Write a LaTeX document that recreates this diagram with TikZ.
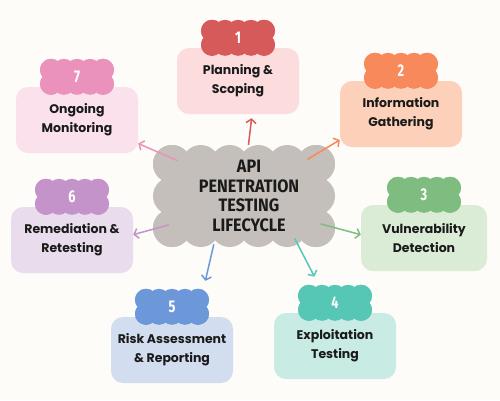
\documentclass[tikz,border=0pt]{standalone}
\usepackage{fontspec}
\setmainfont{Poppins}
\newfontfamily\headfont{Fira Sans}[FakeStretch=0.9]
\newfontfamily\tagfont{Fira Sans}[FakeStretch=0.75]
\usetikzlibrary{positioning,shapes.geometric,calc,arrows.meta}
\definecolor{bgcream}{HTML}{FDFCF8}
\definecolor{hubgrey}{HTML}{C4BFBB}
\definecolor{inkblk}{HTML}{1A1A1A}
\definecolor{rdlt}{HTML}{FCDCDC}
\definecolor{rddk}{HTML}{D75A5A}
\definecolor{orlt}{HTML}{FDD0BA}
\definecolor{ordk}{HTML}{F7895A}
\definecolor{grlt}{HTML}{DAEBD6}
\definecolor{grdk}{HTML}{7EBD7F}
\definecolor{tllt}{HTML}{C8EBE4}
\definecolor{tldk}{HTML}{56C6B5}
\definecolor{bllt}{HTML}{D2DEF0}
\definecolor{bldk}{HTML}{6C98DA}
\definecolor{pplt}{HTML}{E9DCEC}
\definecolor{ppdk}{HTML}{C493CA}
\definecolor{pklt}{HTML}{FBE1EB}
\definecolor{pkdk}{HTML}{EA92BC}
% scalloped patch: centre, half width, half height, puff radius, steps across, steps up, colour
\newcommand\puffy[7]{%
  \begin{scope}[shift={#1}]
    \fill[#7] (-#2,-#3) rectangle (#2,#3);
    \foreach \k in {0,...,#5}
      \fill[#7] ({-#2+2*#2*\k/#5},-#3) circle (#4pt) ({-#2+2*#2*\k/#5},#3) circle (#4pt);
    \foreach \k in {0,...,#6}
      \fill[#7] (-#2,{-#3+2*#3*\k/#6}) circle (#4pt) (#2,{-#3+2*#3*\k/#6}) circle (#4pt);
  \end{scope}}
\tikzset{
  stepbox/.style ={rectangle, rounded corners=12pt, minimum width=122pt,
                   minimum height=66pt, inner sep=2pt, align=center,
                   font=\fontsize{12.5}{19}\selectfont\bfseries, text=inkblk},
  numtag/.style  ={rectangle, minimum width=72pt, minimum height=36pt, inner sep=0pt,
                   font=\tagfont\fontsize{17}{17}\selectfont\bfseries, text=white},
  hub/.style     ={ellipse, minimum width=182pt, minimum height=102pt, inner sep=0pt},
  hubtext/.style ={align=center, font=\headfont\fontsize{18}{19.5}\selectfont\bfseries,
                   text=inkblk},
  fl/.style      ={-{Straight Barb[length=4pt,width=10pt]}, line width=1.5pt}
}
\begin{document}
\begin{tikzpicture}[x=1pt, y=-1pt]
  \fill[bgcream] (0,0) rectangle (500,400);
  \useasboundingbox (0,0) rectangle (500,400);
  % centre cloud
  \node[hub] (hub) at (244,196) {};
  \puffy{(hub)}{72}{32}{19}{5}{2}{hubgrey}
  \node[hubtext] (title) at (249,196) {API\\PENETRATION\\TESTING\\LIFECYCLE};
  % stages
  \node[stepbox, fill=rdlt] (box1) at (238,81)  {Planning \&\\Scoping};
  \node[stepbox, fill=orlt] (box2) at (401,114) {Information\\Gathering};
  \node[stepbox, fill=grlt, minimum width=126pt] (box3) at (424,238) {Vulnerability\\Detection};
  \node[stepbox, fill=tllt] (box4) at (335,346) {Exploitation\\Testing};
  \node[stepbox, fill=bllt] (box5) at (172,350) {Risk Assessment\\\& Reporting};
  \node[stepbox, fill=pplt] (box6) at (72,240)  {Remediation \&\\Retesting};
  \node[stepbox, fill=pklt] (box7) at (77,120)  {Ongoing\\Monitoring};
  % number tags
  \foreach \i/\col in {1/rddk,2/ordk,3/grdk,4/tldk,5/bldk,6/ppdk,7/pkdk} {
    \coordinate (p\i) at ($(box\i.north)+(0,-10)$);
    \puffy{(p\i)}{26}{7}{11}{4}{1}{\col}
    \node[numtag] (n\i) at (p\i) {\i};
  }
  % arrows out of the cloud
  \draw[fl, rddk, shorten >=4pt] (hub.85) -- (box1.-67);
  \draw[fl, ordk] (hub.30) -- (box2.203);
  \draw[fl, grdk] (hub.-20) -- (box3.177);
  \draw[fl, tldk, shorten >=9pt] (hub.-40) -- (n4.132);
  \draw[fl, bldk, shorten >=8pt] (hub.238) -- (n5.30);
  \draw[fl, ppdk] (hub.201) -- (box6.5);
  \draw[fl, pkdk] (hub.152) -- (box7.-21);
\end{tikzpicture}
\end{document}
